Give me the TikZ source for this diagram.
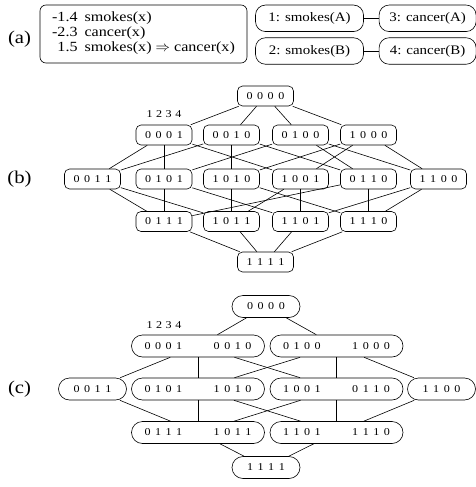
\documentclass[tikz,border=0pt]{standalone}
\usepackage{fontspec}
\setmainfont{Liberation Serif}[FakeStretch=1.15]
\usepackage{tikz}
\usetikzlibrary{positioning}

\newdimen\bitgap
\bitgap=4.5pt
\newcommand{\bits}[4]{#1\kern\bitgap#2\kern\bitgap#3\kern\bitgap#4}
\newcommand{\bitfont}{\fontsize{10.5}{12}\selectfont}

\begin{document}
\begin{tikzpicture}[x=1pt,y=-1pt]
  \tikzset{
    bitbox/.style={draw, line width=0.6pt, rounded corners=5pt, minimum width=56pt, minimum height=20pt, inner sep=0pt, font=\bitfont},
    bitpill/.style={draw, line width=0.6pt, rounded corners=11pt, minimum width=68pt, minimum height=22pt, inner sep=0pt, font=\bitfont},
    widepill/.style={bitpill, minimum width=133pt},
    atom/.style={draw, line width=0.6pt, rounded corners=10pt, minimum height=26.5pt, inner sep=0pt, font=\fontsize{13}{15}\selectfont},
    partlabel/.style={font=\fontsize{18}{20}\selectfont},
    poslabel/.style={font=\bitfont},
    hasse/.style={line width=0.6pt},
  }
  \useasboundingbox (0,0) rectangle (476,487);

  % (a) the MLN and its ground network
  \node[partlabel] (la) at (19.5,39) {(a)};
  \node[draw, line width=0.6pt, rounded corners=6pt, minimum width=207pt, minimum height=58pt, inner sep=0pt,
        font=\fontsize{14}{15}\selectfont] (mln) at (143.5,34)
    {\begin{tabular}{@{}r@{\hspace{7pt}}l@{}}
       -1.4 & smokes(x)\\
       -2.3 & cancer(x)\\
       1.5 & smokes(x) $\Rightarrow$ cancer(x)
     \end{tabular}};
  \node[atom, minimum width=108pt] (smA) at (309.5,18.3) {1: smokes(A)};
  \node[atom, minimum width=97pt, right=15pt of smA] (caA) {3: cancer(A)};
  \node[atom, minimum width=108pt, below=5.6pt of smA] (smB) {2: smokes(B)};
  \node[atom, minimum width=97pt, right=15pt of smB] (caB) {4: cancer(B)};
  \draw[hasse] (smA) -- (caA);
  \draw[hasse] (smB) -- (caB);

  % (b) full lattice
  \node[partlabel] (lb) at (19.5,179) {(b)};
  \node[bitbox] (b0000) at (265.5,96) {\bits0000};
  \node[bitbox] (b0001) at (164,135) {\bits0001};
  \node[bitbox] (b0010) at (231.5,135) {\bits0010};
  \node[bitbox] (b0100) at (300.5,135) {\bits0100};
  \node[bitbox] (b1000) at (368.5,135) {\bits1000};
  \node[bitbox] (b0011) at (92.5,179) {\bits0011};
  \node[bitbox] (b0101) at (164,179) {\bits0101};
  \node[bitbox] (b1010) at (231.5,179) {\bits1010};
  \node[bitbox] (b1001) at (300.5,179) {\bits1001};
  \node[bitbox] (b0110) at (368.5,179) {\bits0110};
  \node[bitbox] (b1100) at (438.5,179) {\bits1100};
  \node[bitbox] (b0111) at (164,221.5) {\bits0111};
  \node[bitbox] (b1011) at (231.5,221.5) {\bits1011};
  \node[bitbox] (b1101) at (300.5,221.5) {\bits1101};
  \node[bitbox] (b1110) at (368.5,221.5) {\bits1110};
  \node[bitbox] (b1111) at (265.5,262) {\bits1111};
  \node[poslabel, above=3.4pt of b0001] (bpos) {\bitgap=3.5pt\bits1234};
  \foreach \from/\to in {0000/0001,0000/0010,0000/0100,0000/1000,
                         0001/0011,0001/0101,0001/1001,
                         0010/0011,0010/1010,0010/0110,
                         0100/0101,0100/0110,0100/1100,
                         1000/1010,1000/1001,1000/1100,
                         0011/0111,0011/1011,0101/0111,0101/1101,
                         1010/1011,1010/1110,1001/1011,1001/1101,
                         0110/0111,0110/1110,1100/1101,1100/1110,
                         0111/1111,1011/1111,1101/1111,1110/1111}
    \draw[hasse] (b\from) -- (b\to);

  % (c) lifted lattice
  \node[partlabel] (lc) at (19.5,389) {(c)};
  \node[bitpill] (c0000) at (266,306.5) {\bits0000};
  \node[widepill] (cPairA) at (198,346) {\bits0001\hspace{31.5pt}\bits0010};
  \node[widepill] (cPairB) at (336.5,346) {\bits0100\hspace{31.5pt}\bits1000};
  \node[bitpill] (c0011) at (92.5,389) {\bits0011};
  \node[widepill] (cPairC) at (198,389) {\bits0101\hspace{31.5pt}\bits1010};
  \node[widepill] (cPairD) at (336.5,389) {\bits1001\hspace{31.5pt}\bits0110};
  \node[bitpill] (c1100) at (441.5,389) {\bits1100};
  \node[widepill] (cPairE) at (198,432.5) {\bits0111\hspace{31.5pt}\bits1011};
  \node[widepill] (cPairF) at (336.5,432.5) {\bits1101\hspace{31.5pt}\bits1110};
  \node[bitpill] (c1111) at (266,467.5) {\bits1111};
  \node[poslabel] (cpos) at (164,325) {\bitgap=3.5pt\bits1234};
  \foreach \from/\to in {0000/PairA,0000/PairB,
                         PairA/0011,PairA/PairC,PairA/PairD,
                         PairB/PairC,PairB/PairD,PairB/1100,
                         0011/PairE,PairC/PairE,PairC/PairF,
                         PairD/PairE,PairD/PairF,1100/PairF,
                         PairE/1111,PairF/1111}
    \draw[hasse] (c\from) -- (c\to);
\end{tikzpicture}
\end{document}
